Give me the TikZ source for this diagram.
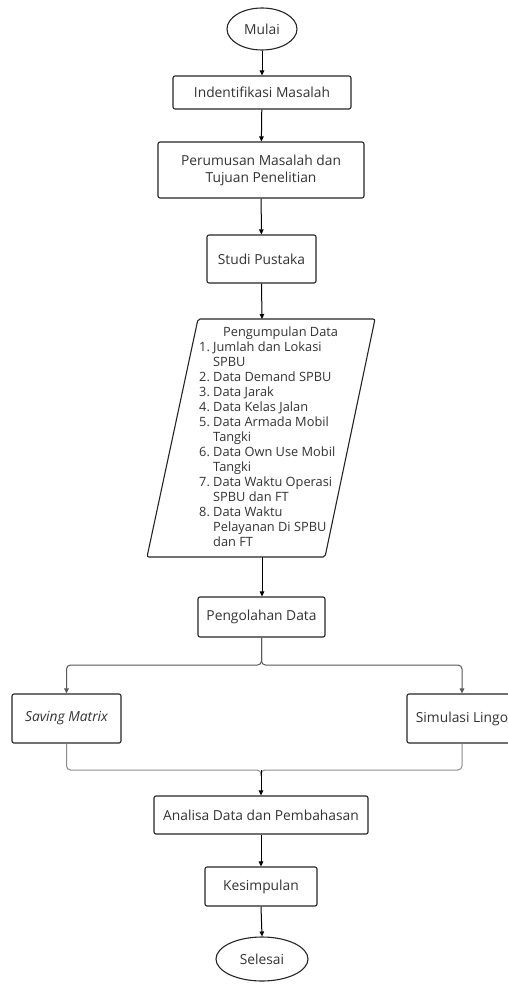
\documentclass[tikz,border=0pt]{standalone}
\usepackage{fontspec}
\setmainfont{Open Sans}
\usetikzlibrary{shapes.geometric,arrows.meta,calc}
\begin{document}
\begin{tikzpicture}[x=1pt,y=-1pt,
  every node/.style={font=\fontsize{13.8}{15}\selectfont, text=black!80},
  box/.style={draw=black!85, line width=1.1pt, rounded corners=2pt, inner sep=0pt, align=center},
  term/.style={draw=black!85, line width=1.1pt, ellipse, inner sep=0pt},
  arr/.style={draw=black, line width=1pt, -{Triangle[length=5pt,width=4.5pt]}},
  branch/.style={draw=black!65, line width=1pt, rounded corners=4pt, -{Triangle[length=5pt,width=4.5pt]}},
  merge/.style={draw=black!45, line width=1pt, rounded corners=4pt}
]
\useasboundingbox (0,0) rectangle (508,985);
\fill[white] (0,0) rectangle (508,985);

\node[term, minimum width=70pt, minimum height=42pt] (mulai) at (262,29) {Mulai};
\node[box, minimum width=178pt, minimum height=33pt] (ind) at (262,92.5) {Indentifikasi Masalah};
\node[box, minimum width=206pt, minimum height=56pt, font=\fontsize{13.8}{17}\selectfont] (per) at (261,170) {Perumusan Masalah dan\\Tujuan Penelitian};
\node[box, minimum width=109pt, minimum height=48pt] (studi) at (261.5,259) {Studi Pustaka};

% parallelogram
\coordinate (pTL) at (198,319);
\coordinate (pTR) at (375,319);
\coordinate (pBR) at (325,557);
\coordinate (pBL) at (147,557);
\draw[black!85, line width=1.1pt, rounded corners=2pt] (pTL) -- (pTR) -- (pBR) -- (pBL) -- cycle;
\coordinate (pdtop) at (262,319);
\coordinate (pdbot) at (262,557);
\node[anchor=north west, inner sep=0pt, align=left, font=\fontsize{12.8}{15}\selectfont] (pdtext) at (199,327) {%
\hspace*{24pt}Pengumpulan Data\\
\makebox[14pt][l]{1.}Jumlah dan Lokasi\\
\hspace*{14pt}SPBU\\
\makebox[14pt][l]{2.}Data Demand SPBU\\
\makebox[14pt][l]{3.}Data Jarak\\
\makebox[14pt][l]{4.}Data Kelas Jalan\\
\makebox[14pt][l]{5.}Data Armada Mobil\\
\hspace*{14pt}Tangki\\
\makebox[14pt][l]{6.}Data Own Use Mobil\\
\hspace*{14pt}Tangki\\
\makebox[14pt][l]{7.}Data Waktu Operasi\\
\hspace*{14pt}SPBU dan FT\\
\makebox[14pt][l]{8.}Data Waktu\\
\hspace*{14pt}Pelayanan Di SPBU\\
\hspace*{14pt}dan FT};

\node[box, minimum width=127pt, minimum height=40pt] (peng) at (261.5,617) {Pengolahan Data};
\node[box, minimum width=109pt, minimum height=49pt] (sm) at (66.5,718.5) {\itshape Saving Matrix};
\node[box, minimum width=110pt, minimum height=49pt] (sl) at (462,718.5) {Simulasi Lingo};
\node[box, minimum width=214pt, minimum height=38pt] (ana) at (261,815) {Analisa Data dan Pembahasan};
\node[box, minimum width=112pt, minimum height=39pt] (kes) at (261,886.5) {Kesimpulan};
\node[term, minimum width=92pt, minimum height=44pt] (sel) at (262,959) {Selesai};

\coordinate (bl) at (66.5,665);
\coordinate (brr) at (462,665);
\coordinate (mj) at (261,770);

\draw[arr] (mulai) -- (ind);
\draw[arr] (ind) -- (per);
\draw[arr] (per) -- (studi);
\draw[arr] (studi.south) -- (pdtop);
\draw[arr] (pdbot) -- (peng.north -| pdbot);
\draw[branch] (peng.south) |- (bl) -- (sm.north);
\draw[branch] (peng.south) |- (brr) -- (sl.north);
\draw[merge] (sm.south) |- (mj) -- ++(0,6);
\draw[merge] (sl.south) |- (mj) -- ++(0,6);
\draw[arr] (mj) -- (ana.north -| mj);
\draw[arr] (ana) -- (kes);
\draw[arr] (kes.south) -- (sel.north);
\end{tikzpicture}
\end{document}
